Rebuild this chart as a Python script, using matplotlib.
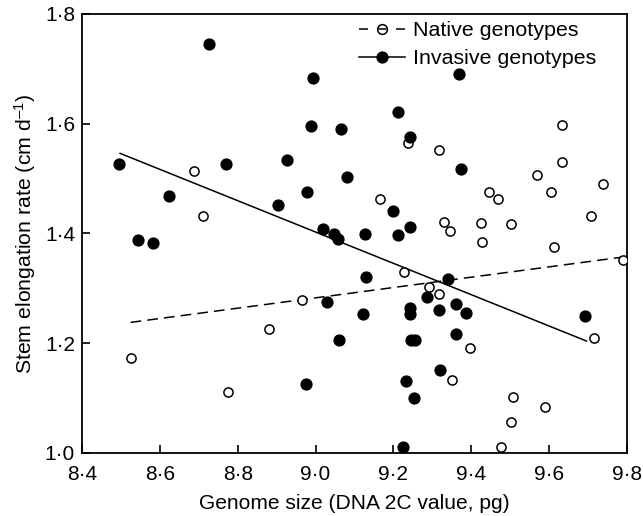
import matplotlib
matplotlib.use("Agg")
import matplotlib.pyplot as plt

plt.rcParams['font.family'] = ['Liberation Sans', 'DejaVu Sans']
plt.rcParams['mathtext.fontset'] = 'custom'
plt.rcParams['mathtext.rm'] = 'Liberation Sans'
plt.rcParams['mathtext.it'] = 'Liberation Sans:italic'

# native genotypes (open circles)
native_x = [8.525, 8.687, 8.711, 8.774, 8.881, 8.964, 9.165, 9.227, 9.237, 9.292,
            9.316, 9.317, 9.330, 9.345, 9.350, 9.397, 9.424, 9.428, 9.445, 9.468,
            9.477, 9.501, 9.501, 9.507, 9.570, 9.589, 9.605, 9.613, 9.634, 9.634,
            9.707, 9.715, 9.739, 9.789]
native_y = [1.174, 1.513, 1.431, 1.112, 1.226, 1.278, 1.462, 1.330, 1.565, 1.302,
            1.289, 1.552, 1.421, 1.405, 1.133, 1.191, 1.420, 1.385, 1.476, 1.462,
            1.011, 1.418, 1.057, 1.102, 1.507, 1.084, 1.476, 1.375, 1.597, 1.531,
            1.431, 1.209, 1.491, 1.351]

# invasive genotypes (filled circles)
invasive_x = [8.496, 8.545, 8.583, 8.623, 8.725, 8.769, 8.904, 8.926, 8.975, 8.977,
              8.988, 8.993, 9.018, 9.029, 9.047, 9.058, 9.061, 9.066, 9.082, 9.121,
              9.126, 9.130, 9.199, 9.213, 9.213, 9.224, 9.233, 9.243, 9.243, 9.243,
              9.243, 9.245, 9.255, 9.253, 9.285, 9.317, 9.320, 9.341, 9.360, 9.361,
              9.369, 9.374, 9.386, 9.691]
invasive_y = [1.527, 1.388, 1.382, 1.469, 1.746, 1.527, 1.452, 1.534, 1.126, 1.476,
              1.596, 1.683, 1.409, 1.275, 1.399, 1.390, 1.206, 1.590, 1.503, 1.254,
              1.399, 1.320, 1.441, 1.621, 1.397, 1.011, 1.132, 1.576, 1.412, 1.264,
              1.254, 1.205, 1.205, 1.101, 1.285, 1.261, 1.151, 1.317, 1.216, 1.272,
              1.691, 1.517, 1.255, 1.250]

# fitted lines (end points)
native_fit_x = [8.525, 9.789]
native_fit_y = [1.238, 1.357]
invasive_fit_x = [8.498, 9.696]
invasive_fit_y = [1.546, 1.204]

x_ticks = [8.4, 8.6, 8.8, 9.0, 9.2, 9.4, 9.6, 9.8]
x_labels = ["8·4", "8·6", "8·8", "9·0", "9·2", "9·4", "9·6", "9·8"]
y_ticks = [1.0, 1.2, 1.4, 1.6, 1.8]
y_labels = ["1·0", "1·2", "1·4", "1·6", "1·8"]

fig = plt.figure(figsize=(6.43, 5.16), dpi=100)
ax = fig.add_axes([0.1275, 0.1221, 0.8476, 0.8508])

ax.plot(native_fit_x, native_fit_y, color="black", lw=1.1, ls=(0, (7, 4)))
ax.plot(invasive_fit_x, invasive_fit_y, color="black", lw=1.1, ls="-")

ax.plot(native_x, native_y, "o", ms=6.6, mfc="white", mec="black", mew=1.1,
        ls="none", zorder=3)
ax.plot(invasive_x, invasive_y, "o", ms=7.8, mfc="black", mec="black",
        ls="none", zorder=4)

# legend handles
h_nat, = ax.plot([], [], color="black", lw=1.1, ls=(0, (5.9, 6.2)), marker="o",
                 ms=7.0, mfc="none", mec="black", mew=1.1)
h_inv, = ax.plot([], [], color="black", lw=1.1, ls="-", marker="o",
                 ms=7.8, mfc="black", mec="black")
ax.legend([h_nat, h_inv], ["Native genotypes", "Invasive genotypes"],
          loc="upper left", bbox_to_anchor=(0.508, 0.984), frameon=False,
          fontsize=15.4, handlelength=2.15, handletextpad=0.37,
          borderpad=0, borderaxespad=0, labelspacing=0.43)

ax.set_xlim(8.4, 9.8)
ax.set_ylim(1.0, 1.8)
ax.set_xticks(x_ticks)
ax.set_xticklabels(x_labels)
ax.set_yticks(y_ticks)
ax.set_yticklabels(y_labels)
ax.tick_params(direction="in", length=6, width=1.2, labelsize=15)
ax.tick_params(axis="x", pad=8.5)
ax.tick_params(axis="y", pad=5)
for s in ax.spines.values():
    s.set_linewidth(1.3)

ax.set_xlabel("Genome size (DNA 2C value, pg)", fontsize=15.1, labelpad=7)
ax.set_ylabel("Stem elongation rate (cm d$^{\u2013 1}$)", fontsize=15.3, labelpad=5)

fig.savefig("out.png", dpi=100)
